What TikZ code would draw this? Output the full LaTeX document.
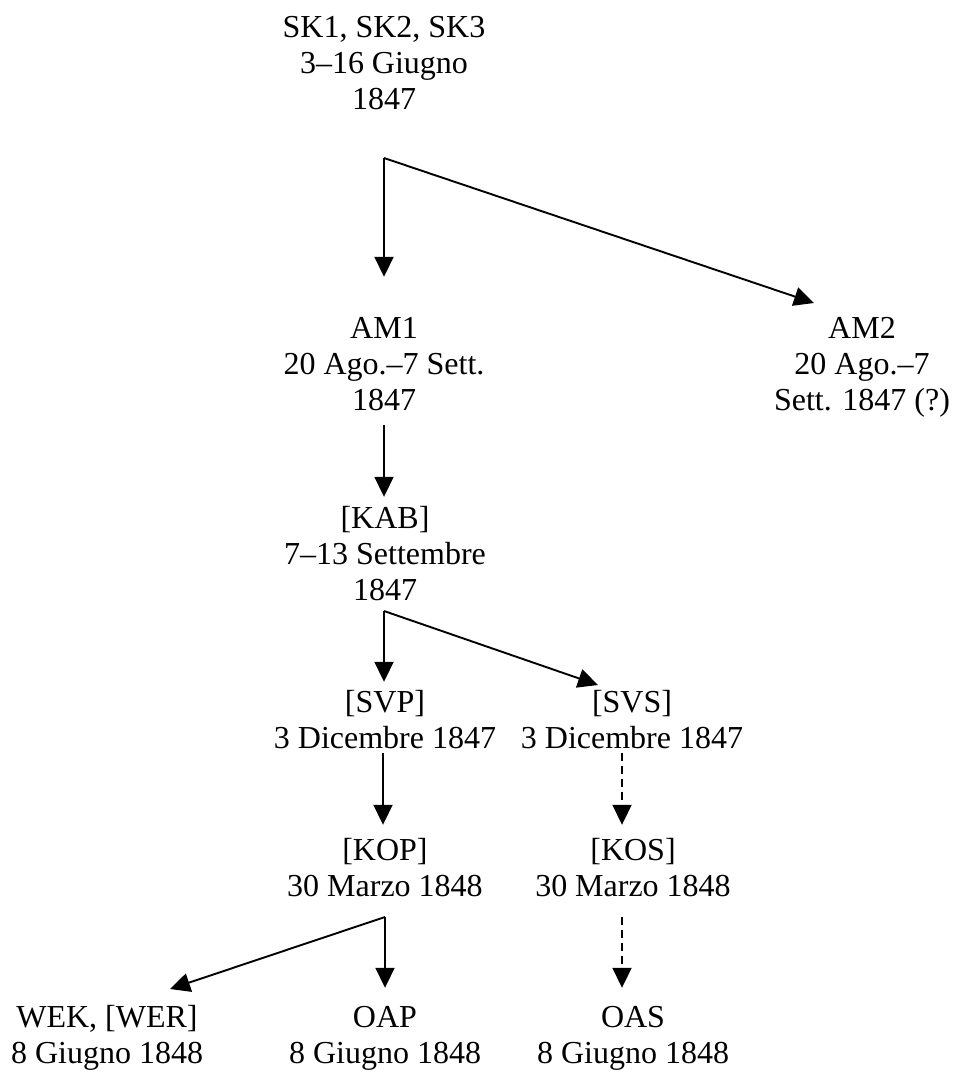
\documentclass[tikz,border=0pt]{standalone}
\usepackage{fontspec}
\setmainfont{Liberation Serif}
\usetikzlibrary{arrows.meta}
\tikzset{
  lbl/.style={font=\fontsize{32}{36}\selectfont, align=center, inner sep=0pt},
  conn/.style={line width=1.9pt, -{Triangle[length=20pt,width=19pt]}},
  dconn/.style={conn, dash pattern=on 8pt off 5pt}
}
\newcommand{\Ln}[1]{\strut #1}
\begin{document}
\begin{tikzpicture}[x=1pt,y=-1pt]
\fill[white] (0,0) rectangle (956,1075);
\useasboundingbox (0,0) rectangle (956,1075);
% nodes
\node[lbl] (SK)  at (384,66.5) {\Ln{SK1, SK2, SK3}\\\Ln{3–16 Giugno}\\\Ln{1847}};
\node[lbl] (AM1) at (384,367) {\Ln{AM1}\\\Ln{20 Ago.–7 Sett.}\\\Ln{1847}};
\node[lbl] (AM2) at (862,367) {\Ln{AM2}\\\Ln{20 Ago.–7}\\\Ln{Sett. 1847 (?)}};
\node[lbl] (KAB) at (385,557.5) {\Ln{[KAB]}\\\Ln{7–13 Settembre}\\\Ln{1847}};
\node[lbl] (SVP) at (385,723) {\Ln{[SVP]}\\\Ln{3 Dicembre 1847}};
\node[lbl] (SVS) at (632,723) {\Ln{[SVS]}\\\Ln{3 Dicembre 1847}};
\node[lbl] (KOP) at (385,871) {\Ln{[KOP]}\\\Ln{30 Marzo 1848}};
\node[lbl] (KOS) at (633,871) {\Ln{[KOS]}\\\Ln{30 Marzo 1848}};
\node[lbl] (WEK) at (107,1038) {\Ln{WEK, [WER]}\\\Ln{8 Giugno 1848}};
\node[lbl] (OAP) at (385,1038) {\Ln{OAP}\\\Ln{8 Giugno 1848}};
\node[lbl] (OAS) at (633,1038) {\Ln{OAS}\\\Ln{8 Giugno 1848}};
% branch points and arrow ends
\coordinate (c1) at (384,158);
\coordinate (c2) at (384,611);
\coordinate (c3) at (385,917);
\coordinate (am2in) at (814,303);
\coordinate (svsin) at (598,685);
\coordinate (wekin) at (170,989);
% connectors
\draw[conn, shorten >=36pt] (c1) -- (c1 |- AM1.north);
\draw[conn] (c1) -- (am2in);
\draw[conn, shorten <=4pt, shorten >=6.5pt] (AM1.south) -- (AM1.south |- KAB.north);
\draw[conn, shorten >=5pt] (c2) -- (c2 |- SVP.north);
\draw[conn] (c2) -- (svsin);
\draw[conn, shorten <=-6pt, shorten >=10pt] ([xshift=-2pt]SVP.south) -- ([xshift=-2pt]SVP.south |- KOP.north);
\draw[dconn, shorten <=-6pt, shorten >=10pt] ([xshift=-10pt]SVS.south) -- ([xshift=-10pt]SVS.south |- KOS.north);
\draw[conn, shorten >=14pt] (c3) -- (c3 |- OAP.north);
\draw[conn] (c3) -- (wekin);
\draw[dconn, shorten <=10pt, shorten >=14pt] ([xshift=-11pt]KOS.south) -- ([xshift=-11pt]KOS.south |- OAS.north);
\end{tikzpicture}
\end{document}
